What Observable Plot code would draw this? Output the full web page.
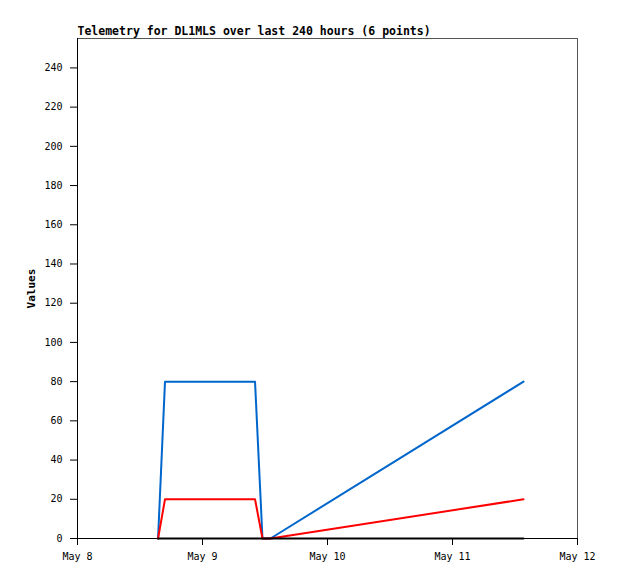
<!DOCTYPE html>
<html><head><meta charset="utf-8">
<script src="https://cdn.jsdelivr.net/npm/d3@7"></script>
<script src="https://cdn.jsdelivr.net/npm/@observablehq/plot@0.6"></script>
<style>body{margin:0;background:#fff}</style>
</head><body><div id="chart"></div>
<script>
const titleText = "Telemetry for DL1MLS over last 240 hours (6 points)";
const yLabel = "Values";
const times = ["2024-05-08T15:28Z","2024-05-08T16:48Z","2024-05-09T10:05Z","2024-05-09T11:31Z","2024-05-09T13:03Z","2024-05-11T13:38Z"];
const blueValues = [0, 80, 80, 0, 0, 80];
const redValues = [0, 20, 20, 0, 0, 20];
const blackValues = [0, 0, 0, 0, 0, 0];
const xTickDates = ["2024-05-08T00:00Z","2024-05-09T00:00Z","2024-05-10T00:00Z","2024-05-11T00:00Z","2024-05-12T00:00Z"];
const yTicks = [0, 20, 40, 60, 80, 100, 120, 140, 160, 180, 200, 220, 240];
const yMax = 255;

const parse = d3.isoParse;
const seriesDefs = [
  {name: "blue", values: blueValues, color: "#0066cc"},
  {name: "red", values: redValues, color: "#ff0000"},
  {name: "black", values: blackValues, color: "#000000"}
];
const xTicksD = xTickDates.map(parse);

const chart = Plot.plot({
  width: 618, height: 579,
  marginLeft: 77, marginRight: 41, marginTop: 38, marginBottom: 41,
  style: {fontFamily: "'DejaVu Sans Mono', monospace", fontSize: "10px", color: "#000", background: "#fff"},
  x: {type: "utc", domain: [xTicksD[0], xTicksD[xTicksD.length - 1]]},
  y: {domain: [0, yMax]},
  marks: [
    Plot.frame({stroke: "#555"}),
    Plot.ruleX([xTicksD[0]], {stroke: "#000"}),
    Plot.ruleY([0], {stroke: "#000"}),
    ...seriesDefs.map(s => Plot.line(times.map((t, i) => ({t: parse(t), v: s.values[i]})), {x: "t", y: "v", stroke: s.color, strokeWidth: 2})),
    Plot.axisX({ticks: xTicksD, tickFormat: d3.utcFormat("%b %-d"), tickSize: 7, tickPadding: 7, label: null}),
    Plot.axisY({ticks: yTicks, tickSize: 7, tickPadding: 8, label: null}),
    Plot.text([yLabel], {frameAnchor: "left", dx: -46, rotate: -90, textAnchor: "middle", fontWeight: "bold", fontSize: 11, text: d => d}),
    Plot.text([titleText], {frameAnchor: "top-left", dy: -4, textAnchor: "start", lineAnchor: "bottom", fontWeight: "bold", fontSize: 11.5, text: d => d})
  ]
});
document.getElementById("chart").append(chart);
</script></body></html>
